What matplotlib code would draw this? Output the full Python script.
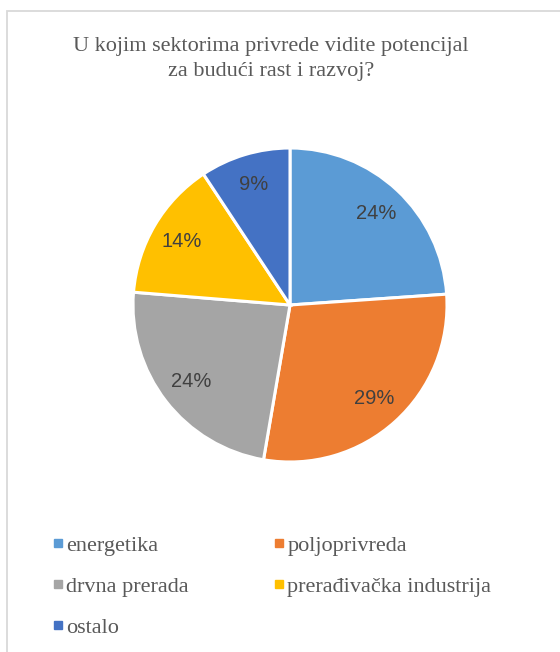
import matplotlib
matplotlib.use("Agg")
import matplotlib.pyplot as plt
from matplotlib.patches import Rectangle
from matplotlib.lines import Line2D

title = "U kojim sektorima privrede vidite potencijal\nza budući rast i razvoj?"
categories = ["energetika", "poljoprivreda", "drvna prerada",
              "prerađivačka industrija", "ostalo"]
values = [23.9, 28.8, 23.6, 14.4, 9.3]
colors = ["#5B9BD5", "#ED7D31", "#A5A5A5", "#FFC000", "#4472C4"]

W, H = 560, 652
fig = plt.figure(figsize=(W / 100, H / 100), dpi=100)
fig.patch.set_facecolor("white")

# chart border
fig.add_artist(Rectangle((7 / W, -0.05), 1.2, 1 - 11 / H + 0.05,
                         transform=fig.transFigure, fill=False,
                         edgecolor="#D9D9D9", linewidth=1.3))

cx, cy, r = 290, 305, 157
m = 1.1
ax = fig.add_axes([(cx - r * m) / W, (H - cy - r * m) / H, 2 * r * m / W, 2 * r * m / H])
wedges, texts, autotexts = ax.pie(
    values, colors=colors, startangle=90, counterclock=False,
    autopct=lambda p: f"{p:.0f}%", pctdistance=0.8,
    wedgeprops=dict(edgecolor="white", linewidth=2.2),
    textprops=dict(fontsize=14.5, color="#404040", family="Liberation Sans"))
ax.set_xlim(-m, m)
ax.set_ylim(-m, m)
ax.set_aspect("equal")
ax.axis("off")

fig.text(271 / W, 1 - 59 / H, title, ha="center", va="center",
         fontsize=16, color="#595959", family="Liberation Serif", linespacing=1.36)

handles = [Line2D([], [], marker="s", linestyle="none", markersize=6,
                  markerfacecolor=c, markeredgecolor=c) for c in colors]
order = [0, 2, 4, 1, 3]
leg = fig.legend([handles[i] for i in order], [categories[i] for i in order],
                 ncol=2, loc="upper left", bbox_to_anchor=(31 / W, 1 - 515 / H),
                 frameon=False, handlelength=0.6, handletextpad=0.08,
                 columnspacing=3.75, labelspacing=0.93,
                 prop=dict(family="Liberation Serif", size=16))
for t in leg.get_texts():
    t.set_color("#595959")

fig.savefig("out.png", dpi=100, facecolor="white")
